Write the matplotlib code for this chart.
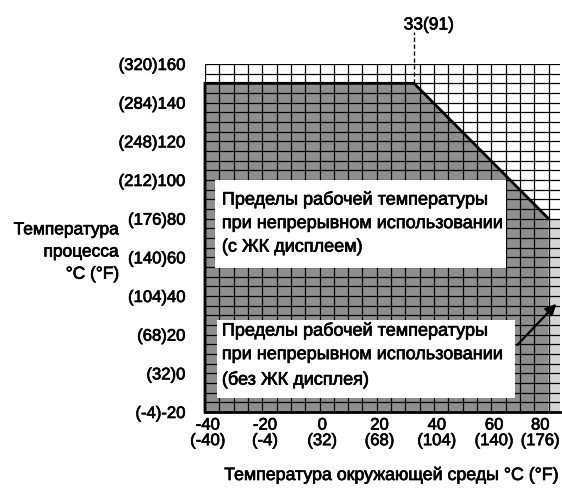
import matplotlib
matplotlib.use("Agg")
import matplotlib.pyplot as plt
from matplotlib.patches import Polygon, Rectangle
import matplotlib.patheffects as pe
import matplotlib.transforms as mtransforms
import numpy as np

plt.rcParams['font.family'] = ['Liberation Sans', 'DejaVu Sans']

# Data
x_ticks = [-40, -20, 0, 20, 40, 60, 80]
x_tick_labels = ["-40\n(-40)", "-20\n(-4)", "0\n(32)", "20\n(68)", "40\n(104)", "60\n(140)", "80\n(176)"]
y_ticks = [-20, 0, 20, 40, 60, 80, 100, 120, 140, 160]
y_tick_labels = ["(-4)-20", "(32)0", "(68)20", "(104)40", "(140)60", "(176)80",
                 "(212)100", "(248)120", "(284)140", "(320)160"]
# Limit with LCD display (ambient x, process y)
lcd_x = [-40, 33, 80]
lcd_y = [150, 150, 80]
# Limit without LCD display
no_lcd_x = [80, 85]
no_lcd_y = 80
y_min = -20
y_max = 160
x_min = -40
x_max = 84
grid_step = 5
break_label = "33(91)"
box1_text = "Пределы рабочей температуры\nпри непрерывном использовании\n(с ЖК дисплеем)"
box2_text = "Пределы рабочей температуры\nпри непрерывном использовании\n(без ЖК дисплея)"
ylabel = "Температура\nпроцесса\n°C (°F)"
xlabel = "Температура окружающей среды °C (°F)"

heavy = [pe.withStroke(linewidth=0.5, foreground='black')]

fig = plt.figure(figsize=(5.62, 4.88), dpi=100)
ax = fig.add_axes([205/562, 1-412/488, (560-205)/562, (412-64)/488])
ax.set_xlim(x_min, x_max)
ax.set_ylim(y_min, y_max)
ax.patch.set_facecolor('white')

# light gray column (without LCD)
ax.add_patch(Rectangle((no_lcd_x[0], y_min), no_lcd_x[1]-no_lcd_x[0], no_lcd_y - y_min,
                       facecolor='#d4d4d4', edgecolor='none', zorder=1))
# dark gray polygon (with LCD)
poly = [(lcd_x[0], y_min)] + list(zip(lcd_x, lcd_y)) + [(lcd_x[-1], y_min)]
ax.add_patch(Polygon(poly, closed=True, facecolor='#8f8f8f', edgecolor='none', zorder=1))

# grid
for gx in np.arange(x_min, 90, grid_step):
    ax.axvline(gx, color='black', lw=0.9, zorder=2)
for gy in np.arange(y_min, y_max + 1, grid_step):
    ax.axhline(gy, color='black', lw=0.9, zorder=2)

# outline
ax.plot([lcd_x[0], lcd_x[0]] + lcd_x, [y_min, lcd_y[0]] + lcd_y, color='black', lw=2.0, zorder=3,
        solid_joinstyle='miter', clip_on=False)
ax.plot([lcd_x[0], x_max], [y_min, y_min], color='black', lw=2.0, zorder=3, clip_on=False)

# dashed marker line
ax.plot([lcd_x[1], lcd_x[1]], [lcd_y[1], 176.5], color='black', lw=1.0, ls=(0, (3, 2)),
        clip_on=False, zorder=3)
ax.text(lcd_x[1] + 5.2, 180.2, break_label, ha='center', va='center', fontsize=12.5,
        path_effects=heavy)

for s in ax.spines.values():
    s.set_visible(False)
ax.set_xticks(x_ticks)
ax.set_xticklabels(x_tick_labels, fontsize=12, linespacing=1.05)
ax.set_yticks(y_ticks)
ax.set_yticklabels(y_tick_labels, fontsize=12)
ax.tick_params(length=0)
ax.tick_params(axis='y', pad=14)
ax.tick_params(axis='x', pad=4)
for i, lab in enumerate(ax.get_xticklabels()):
    lab.set_path_effects(heavy)
    dx = 2/72 if i < len(x_ticks) - 1 else -6/72
    lab.set_transform(lab.get_transform() + mtransforms.ScaledTranslation(dx, 0, fig.dpi_scale_trans))
for lab in ax.get_yticklabels():
    lab.set_path_effects(heavy)

# text boxes
ax.add_patch(Rectangle((-36.5, 54.5), 101.5, 45.5, facecolor='white', edgecolor='none', zorder=4))
ax.text(-34.1, 77.8, box1_text, ha='left', va='center', fontsize=13, linespacing=1.5, zorder=5,
        path_effects=heavy)
ax.add_patch(Rectangle((-35.8, -12.8), 104.2, 40.4, facecolor='white', edgecolor='none', zorder=4))
ax.text(-34.1, 9.5, box2_text, ha='left', va='center', fontsize=13, linespacing=1.5, zorder=5,
        path_effects=heavy)

# arrow
ax.annotate("", xy=(83.4, 37), xytext=(68.4, 13.6),
            arrowprops=dict(arrowstyle='-|>', color='black', lw=1.6, mutation_scale=16), zorder=6)

fig.text(119/562, 1-252/488, ylabel, ha='right', va='center', fontsize=12.5, linespacing=1.6,
         path_effects=heavy)
fig.text(391/562, 1-475/488, xlabel, ha='center', va='center', fontsize=12.8, path_effects=heavy)

fig.savefig("out.png", dpi=100)
